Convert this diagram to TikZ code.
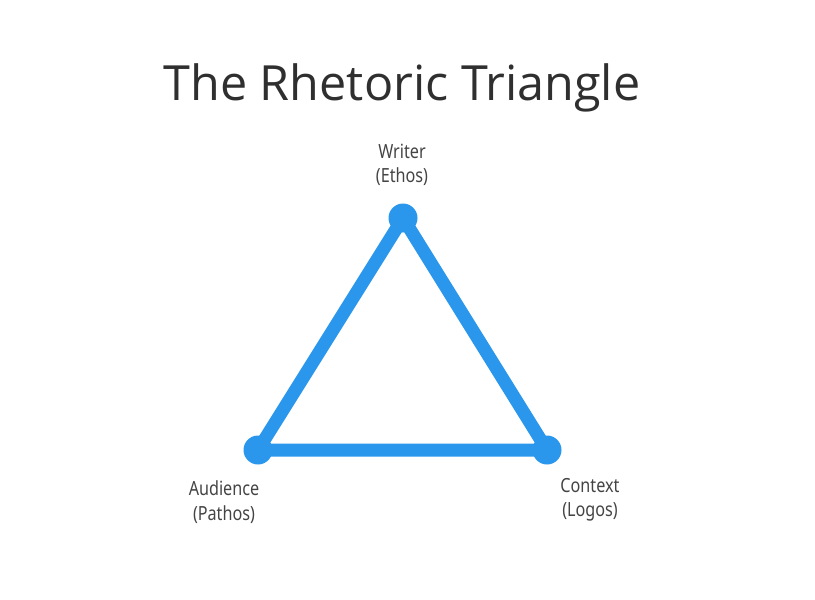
\documentclass[tikz,border=0pt]{standalone}
\usepackage{fontspec}
\setmainfont{Open Sans}
\newfontfamily\labelfont[FakeStretch=0.83]{Noto Sans}
\definecolor{triblue}{HTML}{2B97EC}
\definecolor{titlegray}{HTML}{2F2F2F}
\definecolor{labelgray}{HTML}{444444}
\begin{document}
\begin{tikzpicture}[x=1pt,y=-1pt,
  edge/.style={draw=triblue,line width=13pt,line join=round,line cap=round},
  dot/.style={circle,fill=triblue,minimum size=29pt,inner sep=0pt},
  lbl/.style={text=labelgray,font=\labelfont\fontsize{19.5}{24.5}\selectfont,align=center,inner sep=0pt}]
\useasboundingbox (0,0) rectangle (815,600);
\node[text=titlegray,font=\fontsize{48.5}{58}\selectfont,anchor=base] (title) at (402,100) {The Rhetoric Triangle};
\coordinate (w) at (403,218);
\coordinate (a) at (258,450);
\coordinate (c) at (547,450);
\draw[edge] (w) -- (a) -- (c) -- cycle;
\node[dot] (wd) at (w) {};
\node[dot] (ad) at (a) {};
\node[dot] (cd) at (c) {};
\node[lbl] (wl) at (402,165) {Writer\\(Ethos)};
\node[lbl] (al) at (224,502) {Audience\\(Pathos)};
\node[lbl] (cl) at (590,500) {Context\\(Logos)};
\end{tikzpicture}
\end{document}
